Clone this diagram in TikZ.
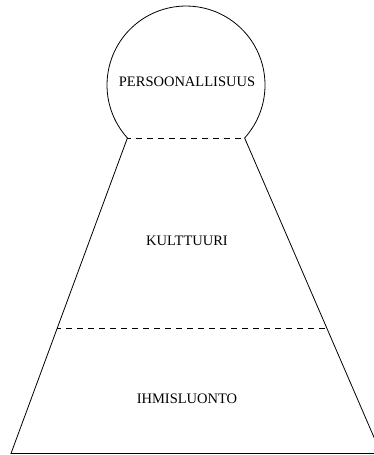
\documentclass[tikz,border=0pt]{standalone}
\usepackage{fontspec}
\setmainfont{Liberation Serif}
\usetikzlibrary{calc}
\begin{document}
\begin{tikzpicture}[x=1pt,y=1pt,line width=0.8pt,lab/.style={font=\fontsize{14.5}{17}\selectfont},split/.style={dash pattern=on 6pt off 5pt,dash phase=2pt}]
\useasboundingbox (0,0) rectangle (374,455);
\coordinate (c) at (186,370);
\coordinate (tl) at (127.4,317); \coordinate (tr) at (244.6,317);
\coordinate (bl) at (11,1.5); \coordinate (br) at (381,1.5);
\coordinate (ml) at ($(tl)!0.604!(bl)$); \coordinate (mr) at ($(tr)!0.604!(br)$);
\draw (bl) -- (tl) arc[start angle=222.1,end angle=-42.1,radius=79] -- (br) -- cycle;
\draw[split] (tl) -- (tr);
\draw[split] (ml) -- (mr);
\foreach \t/\y in {PERSOONALLISUUS/373,KULTTUURI/214,IHMISLUONTO/56}{\node[lab] (n\y) at (187,\y) {\t};};
\end{tikzpicture}
\end{document}
